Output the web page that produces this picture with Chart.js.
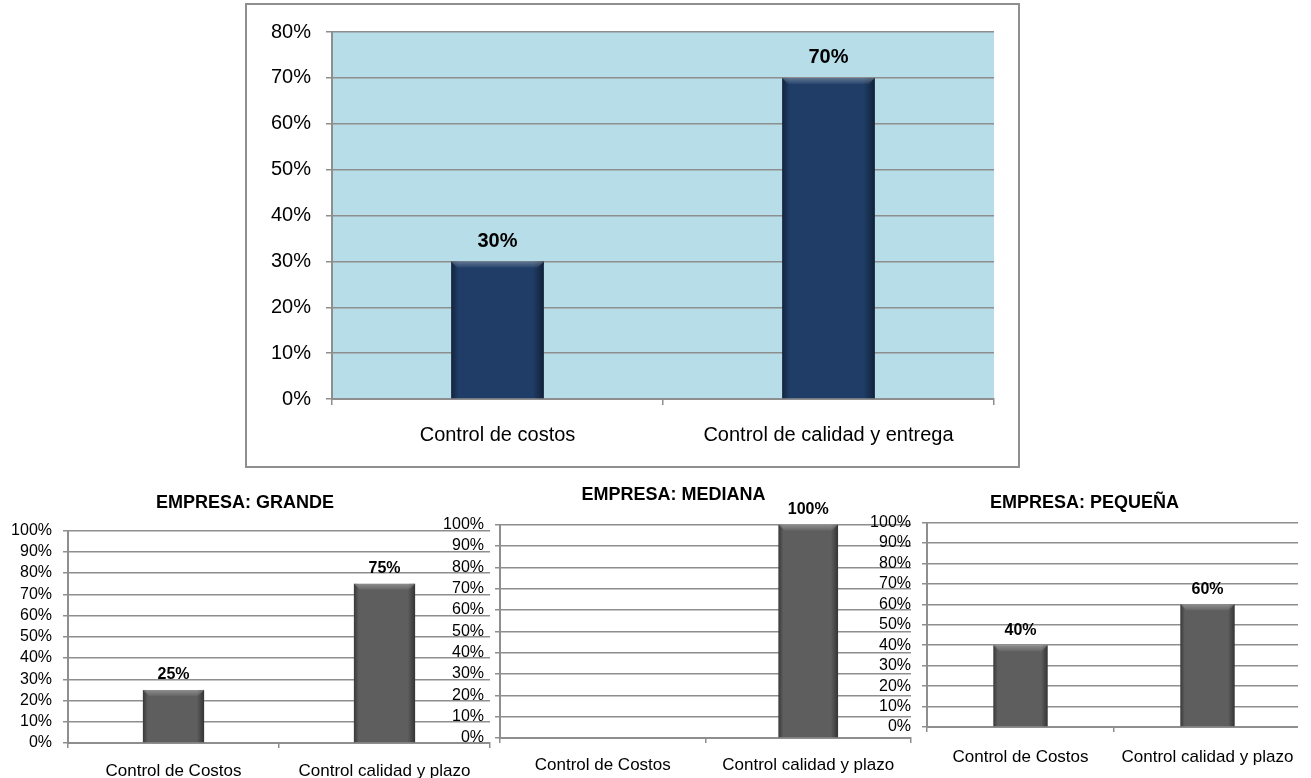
<!DOCTYPE html>
<html>
<head>
<meta charset="utf-8">
<script src="https://cdn.jsdelivr.net/npm/chart.js@4.4.0/dist/chart.umd.min.js"></script>
<style>
  body { margin: 0; background: #fff; width: 1311px; height: 778px; overflow: hidden; position: relative; }
  .box { position: absolute; left: 245px; top: 3px; width: 775px; height: 465px; border: 2px solid #8f8f8f; box-sizing: border-box; background: #fff; }
  .panel { position: absolute; overflow: hidden; }
  canvas { display: block; }
</style>
</head>
<body>
<div class="box"><canvas id="mainChart" width="771" height="461"></canvas></div>
<div class="panel" style="left:0;top:480px;width:492px;height:298px"><canvas id="grandeChart" width="492" height="298"></canvas></div>
<div class="panel" style="left:436px;top:470px;width:477px;height:308px"><canvas id="medianaChart" width="477" height="308"></canvas></div>
<div class="panel" style="left:862px;top:480px;width:436px;height:298px"><canvas id="pequenaChart" width="447" height="298"></canvas></div>
<script>
// general chart
const mainCategories = ['Control de costos', 'Control de calidad y entrega'];
const mainValues = [30, 70];
const mainMax = 80;

// by company size
const sizeCategories = ['Control de Costos', 'Control calidad y plazo'];
const grandeValues = [25, 75];
const medianaValues = [0, 100];
const pequenaValues = [40, 60];
const sizeMax = 100;
const panelTitles = ['EMPRESA: GRANDE', 'EMPRESA: MEDIANA', 'EMPRESA: PEQUEÑA'];

const FONT = "'Liberation Sans', Arial, sans-serif";
const GRID = '#8e8e8e';

// light blue plot background
const plotBackground = {
    id: 'plotBackground',
    beforeDraw(chart, args, opts) {
        if (!opts.color) return;
        const a = chart.chartArea;
        chart.ctx.save();
        chart.ctx.fillStyle = opts.color;
        chart.ctx.fillRect(a.left, a.top, a.right - a.left, a.bottom - a.top);
        chart.ctx.restore();
    }
};

// beveled look on the bars + value labels on top
const barDecor = {
    id: 'barDecor',
    afterDatasetsDraw(chart, args, opts) {
        const ctx = chart.ctx;
        const meta = chart.getDatasetMeta(0);
        const values = chart.data.datasets[0].data;
        meta.data.forEach((bar, i) => {
            const { x, y, base, width } = bar.getProps(['x', 'y', 'base', 'width'], true);
            const h = base - y;
            const left = x - width / 2;
            ctx.save();
            if (h > 0) {
                const g = ctx.createLinearGradient(left, 0, left + width, 0);
                g.addColorStop(0, 'rgba(0,0,0,0.4)');
                g.addColorStop(0.08, 'rgba(0,0,0,0)');
                g.addColorStop(0.88, 'rgba(0,0,0,0)');
                g.addColorStop(1, 'rgba(0,0,0,0.45)');
                ctx.fillStyle = g;
                ctx.fillRect(left, y, width, h);
                const b = Math.min(6, h / 2);
                const tg = ctx.createLinearGradient(0, y, 0, y + b);
                tg.addColorStop(0, 'rgba(255,255,255,0.3)');
                tg.addColorStop(1, 'rgba(255,255,255,0.05)');
                ctx.beginPath();
                ctx.moveTo(left, y);
                ctx.lineTo(left + width, y);
                ctx.lineTo(left + width - b, y + b);
                ctx.lineTo(left + b, y + b);
                ctx.closePath();
                ctx.fillStyle = tg;
                ctx.fill();
            }
            if (values[i] > 0) {
                ctx.fillStyle = '#000';
                ctx.font = 'bold ' + opts.size + 'px ' + FONT;
                ctx.textAlign = 'center';
                ctx.textBaseline = 'middle';
                ctx.fillText(values[i] + '%', x, y - opts.offset);
            }
            ctx.restore();
        });
    }
};

Chart.register(plotBackground, barDecor);

function percentTick(v) { return v + '%'; }

function buildChart(id, cfg) {
    return new Chart(document.getElementById(id), {
        type: 'bar',
        data: {
            labels: cfg.labels,
            datasets: [{
                data: cfg.values,
                backgroundColor: cfg.barColor,
                categoryPercentage: 1,
                barPercentage: cfg.barPct
            }]
        },
        options: {
            responsive: false,
            animation: false,
            events: [],
            layout: { padding: cfg.padding },
            scales: {
                x: {
                    grid: { display: true, drawOnChartArea: false, drawTicks: true, tickLength: cfg.tick, color: GRID, lineWidth: 1.5 },
                    border: { display: true, color: GRID, width: 2 },
                    ticks: { color: '#000', font: { family: FONT, size: cfg.xFont }, padding: cfg.xPad, maxRotation: 0, autoSkip: false },
                    afterFit: s => { s.height = cfg.xHeight; }
                },
                y: {
                    min: 0,
                    max: cfg.max,
                    grid: { color: GRID, lineWidth: 1.5, tickLength: cfg.tick },
                    border: { display: true, color: GRID, width: 2 },
                    ticks: { stepSize: 10, autoSkip: false, color: '#000', font: { family: FONT, size: cfg.yFont }, padding: cfg.yPad, callback: percentTick },
                    afterFit: s => { s.width = cfg.yWidth; }
                }
            },
            plugins: {
                legend: { display: false },
                tooltip: { enabled: false },
                title: cfg.title ? {
                    display: true,
                    text: cfg.title,
                    color: '#000',
                    font: { family: FONT, size: 18, weight: 'bold' },
                    padding: cfg.titlePad
                } : { display: false },
                plotBackground: { color: cfg.plotColor || null },
                barDecor: { size: cfg.labelSize, offset: cfg.labelOffset }
            }
        }
    });
}

buildChart('mainChart', {
    labels: mainCategories, values: mainValues, max: mainMax,
    barColor: '#1f3d66', barPct: 0.28, plotColor: '#b7dde8',
    padding: { left: 0, right: 24, top: 24, bottom: 0 },
    yWidth: 85, xHeight: 67, tick: 6, xPad: 18, yPad: 15,
    xFont: 20, yFont: 20, labelSize: 20, labelOffset: 20
});

const smallBase = {
    labels: sizeCategories, max: sizeMax, barColor: '#5e5e5e', barPct: 0.29,
    tick: 5, yPad: 11, xFont: 17, yFont: 16, labelSize: 16, labelOffset: 15
};

buildChart('grandeChart', Object.assign({}, smallBase, {
    values: grandeValues, title: panelTitles[0],
    titlePad: { top: 12, bottom: 17 },
    padding: { left: 0, right: 2, top: 0, bottom: 0 },
    yWidth: 68, xHeight: 35, xPad: 13
}));

buildChart('medianaChart', Object.assign({}, smallBase, {
    values: medianaValues, title: panelTitles[1],
    titlePad: { top: 14, bottom: 19 },
    padding: { left: 0, right: 2, top: 0, bottom: 0 },
    yWidth: 64, xHeight: 40, xPad: 12
}));

buildChart('pequenaChart', Object.assign({}, smallBase, {
    values: pequenaValues, title: panelTitles[2],
    titlePad: { top: 12, bottom: 9 },
    padding: { left: 0, right: 2, top: 0, bottom: 0 },
    yWidth: 65, xHeight: 51, xPad: 15
}));
</script>
</body>
</html>
